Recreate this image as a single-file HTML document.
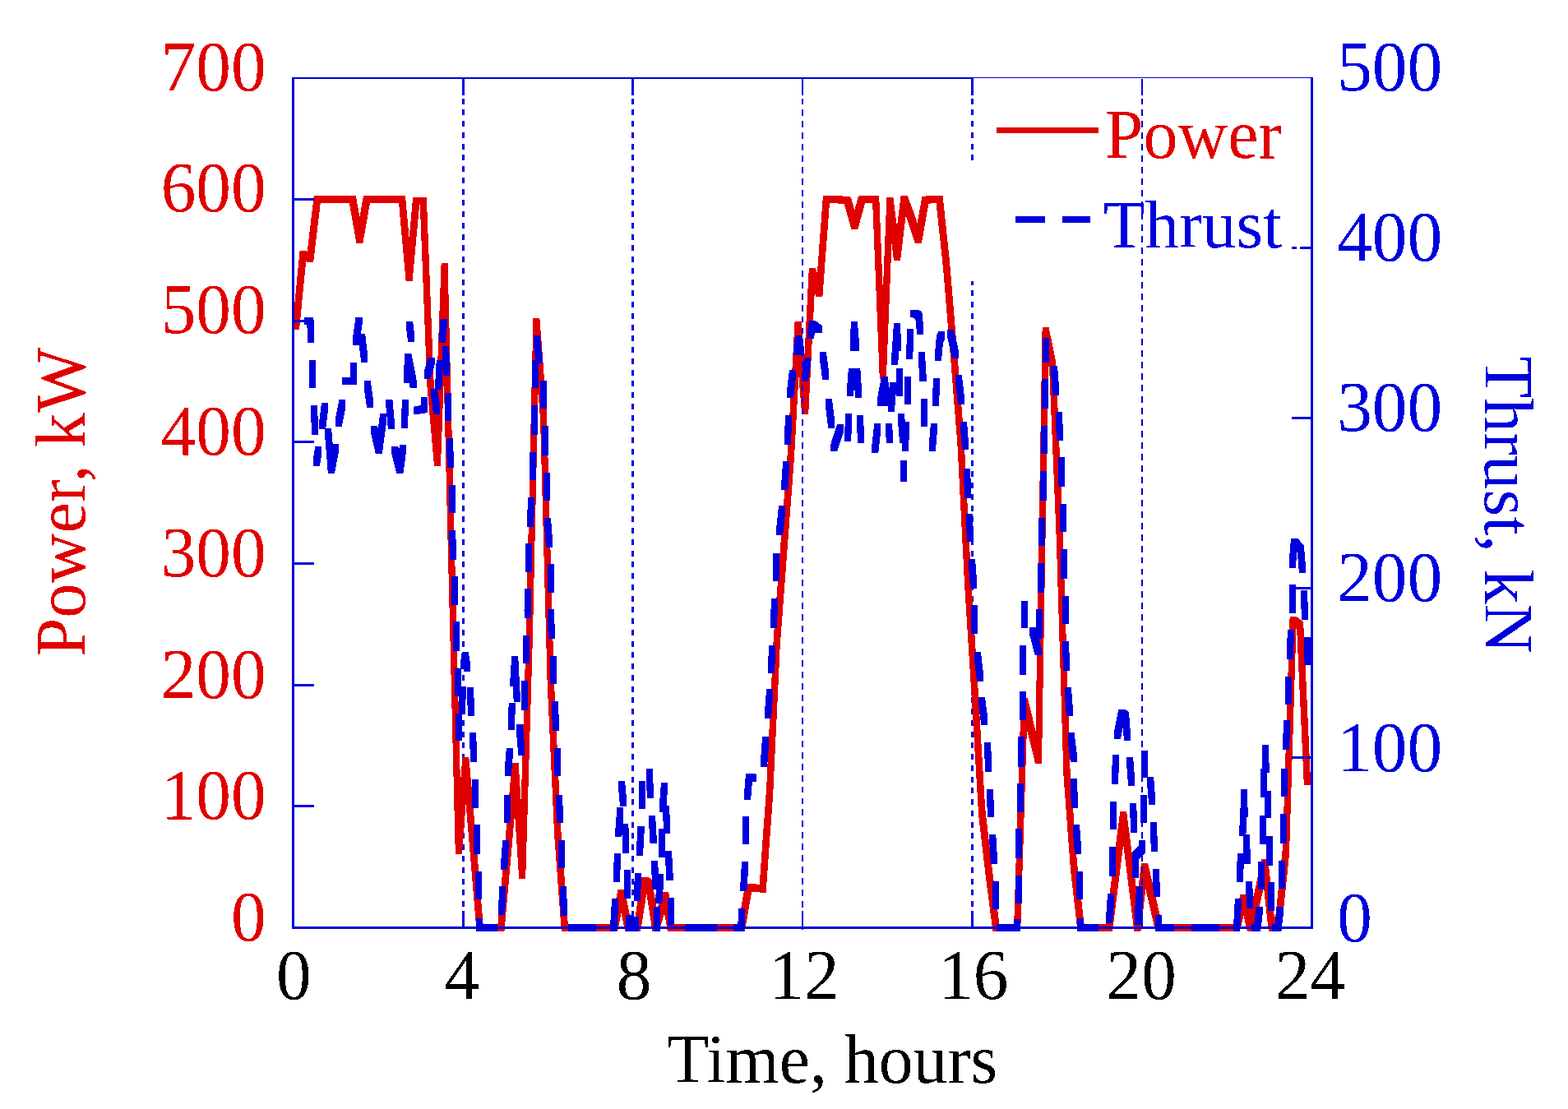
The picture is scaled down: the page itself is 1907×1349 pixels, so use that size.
<!DOCTYPE html>
<html lang="en"><head><meta charset="utf-8"><title>Power and Thrust vs Time</title>
<style>html,body{margin:0;padding:0;background:#fff}body{width:1907px;height:1349px;overflow:hidden}svg{display:block}text{font-family:"Liberation Serif","Times New Roman",serif}</style></head><body>
<svg width="1907" height="1349" viewBox="0 0 1907 1349">
<rect width="1907" height="1349" fill="#fff"/>
<defs><clipPath id="cp"><rect x="350" y="90" width="1245.5" height="1050"/></clipPath><filter id="hard" x="-5%" y="-5%" width="110%" height="110%" color-interpolation-filters="sRGB"><feComponentTransfer><feFuncA type="discrete" tableValues="0 1"/></feComponentTransfer></filter></defs>
<g shape-rendering="crispEdges" fill="#0000dd" stroke="none">
<rect x="561.9" y="96.0" width="3.2" height="19.6"/><rect x="561.9" y="119.5" width="3.2" height="7.0"/><rect x="561.9" y="133.3" width="3.2" height="7.0"/><rect x="561.9" y="147.0" width="3.2" height="7.0"/><rect x="561.9" y="160.8" width="3.2" height="7.0"/><rect x="561.9" y="174.5" width="3.2" height="7.0"/><rect x="561.9" y="188.3" width="3.2" height="7.0"/><rect x="561.9" y="202.0" width="3.2" height="7.0"/><rect x="561.9" y="215.8" width="3.2" height="7.0"/><rect x="561.9" y="229.5" width="3.2" height="7.0"/><rect x="561.9" y="243.3" width="3.2" height="7.0"/><rect x="561.9" y="257.0" width="3.2" height="7.0"/><rect x="561.9" y="270.8" width="3.2" height="7.0"/><rect x="561.9" y="284.5" width="3.2" height="7.0"/><rect x="561.9" y="298.3" width="3.2" height="7.0"/><rect x="561.9" y="312.0" width="3.2" height="7.0"/><rect x="561.9" y="325.8" width="3.2" height="7.0"/><rect x="561.9" y="339.5" width="3.2" height="7.0"/><rect x="561.9" y="353.3" width="3.2" height="7.0"/><rect x="561.9" y="367.1" width="3.2" height="7.0"/><rect x="561.9" y="380.8" width="3.2" height="7.0"/><rect x="561.9" y="394.6" width="3.2" height="7.0"/><rect x="561.9" y="408.3" width="3.2" height="7.0"/><rect x="561.9" y="422.1" width="3.2" height="7.0"/><rect x="561.9" y="435.8" width="3.2" height="7.0"/><rect x="561.9" y="449.6" width="3.2" height="7.0"/><rect x="561.9" y="463.3" width="3.2" height="7.0"/><rect x="561.9" y="477.1" width="3.2" height="7.0"/><rect x="561.9" y="490.8" width="3.2" height="7.0"/><rect x="561.9" y="504.6" width="3.2" height="7.0"/><rect x="561.9" y="518.3" width="3.2" height="7.0"/><rect x="561.9" y="532.1" width="3.2" height="7.0"/><rect x="561.9" y="545.8" width="3.2" height="7.0"/><rect x="561.9" y="559.6" width="3.2" height="7.0"/><rect x="561.9" y="573.3" width="3.2" height="7.0"/><rect x="561.9" y="587.1" width="3.2" height="7.0"/><rect x="561.9" y="600.9" width="3.2" height="7.0"/><rect x="561.9" y="614.6" width="3.2" height="7.0"/><rect x="561.9" y="628.4" width="3.2" height="7.0"/><rect x="561.9" y="642.1" width="3.2" height="7.0"/><rect x="561.9" y="655.9" width="3.2" height="7.0"/><rect x="561.9" y="669.6" width="3.2" height="7.0"/><rect x="561.9" y="683.4" width="3.2" height="7.0"/><rect x="561.9" y="697.1" width="3.2" height="7.0"/><rect x="561.9" y="710.9" width="3.2" height="7.0"/><rect x="561.9" y="724.6" width="3.2" height="7.0"/><rect x="561.9" y="738.4" width="3.2" height="7.0"/><rect x="561.9" y="752.1" width="3.2" height="7.0"/><rect x="561.9" y="765.9" width="3.2" height="7.0"/><rect x="561.9" y="779.6" width="3.2" height="7.0"/><rect x="561.9" y="793.4" width="3.2" height="7.0"/><rect x="561.9" y="807.2" width="3.2" height="7.0"/><rect x="561.9" y="820.9" width="3.2" height="7.0"/><rect x="561.9" y="834.7" width="3.2" height="7.0"/><rect x="561.9" y="848.4" width="3.2" height="7.0"/><rect x="561.9" y="862.2" width="3.2" height="7.0"/><rect x="561.9" y="875.9" width="3.2" height="7.0"/><rect x="561.9" y="889.7" width="3.2" height="7.0"/><rect x="561.9" y="903.4" width="3.2" height="7.0"/><rect x="561.9" y="917.2" width="3.2" height="7.0"/><rect x="561.9" y="930.9" width="3.2" height="7.0"/><rect x="561.9" y="944.7" width="3.2" height="7.0"/><rect x="561.9" y="958.4" width="3.2" height="7.0"/><rect x="561.9" y="972.2" width="3.2" height="7.0"/><rect x="561.9" y="985.9" width="3.2" height="7.0"/><rect x="561.9" y="999.7" width="3.2" height="7.0"/><rect x="561.9" y="1013.4" width="3.2" height="7.0"/><rect x="561.9" y="1027.2" width="3.2" height="7.0"/><rect x="561.9" y="1041.0" width="3.2" height="7.0"/><rect x="561.9" y="1054.7" width="3.2" height="7.0"/><rect x="561.9" y="1068.5" width="3.2" height="7.0"/><rect x="561.9" y="1082.2" width="3.2" height="7.0"/><rect x="561.9" y="1096.0" width="3.2" height="7.0"/><rect x="561.9" y="1108.0" width="3.2" height="19.0"/>
<rect x="767.8" y="96.0" width="3.2" height="19.6"/><rect x="767.8" y="119.5" width="3.2" height="7.0"/><rect x="767.8" y="133.3" width="3.2" height="7.0"/><rect x="767.8" y="147.0" width="3.2" height="7.0"/><rect x="767.8" y="160.8" width="3.2" height="7.0"/><rect x="767.8" y="174.5" width="3.2" height="7.0"/><rect x="767.8" y="188.3" width="3.2" height="7.0"/><rect x="767.8" y="202.0" width="3.2" height="7.0"/><rect x="767.8" y="215.8" width="3.2" height="7.0"/><rect x="767.8" y="229.5" width="3.2" height="7.0"/><rect x="767.8" y="243.3" width="3.2" height="7.0"/><rect x="767.8" y="257.0" width="3.2" height="7.0"/><rect x="767.8" y="270.8" width="3.2" height="7.0"/><rect x="767.8" y="284.5" width="3.2" height="7.0"/><rect x="767.8" y="298.3" width="3.2" height="7.0"/><rect x="767.8" y="312.0" width="3.2" height="7.0"/><rect x="767.8" y="325.8" width="3.2" height="7.0"/><rect x="767.8" y="339.5" width="3.2" height="7.0"/><rect x="767.8" y="353.3" width="3.2" height="7.0"/><rect x="767.8" y="367.1" width="3.2" height="7.0"/><rect x="767.8" y="380.8" width="3.2" height="7.0"/><rect x="767.8" y="394.6" width="3.2" height="7.0"/><rect x="767.8" y="408.3" width="3.2" height="7.0"/><rect x="767.8" y="422.1" width="3.2" height="7.0"/><rect x="767.8" y="435.8" width="3.2" height="7.0"/><rect x="767.8" y="449.6" width="3.2" height="7.0"/><rect x="767.8" y="463.3" width="3.2" height="7.0"/><rect x="767.8" y="477.1" width="3.2" height="7.0"/><rect x="767.8" y="490.8" width="3.2" height="7.0"/><rect x="767.8" y="504.6" width="3.2" height="7.0"/><rect x="767.8" y="518.3" width="3.2" height="7.0"/><rect x="767.8" y="532.1" width="3.2" height="7.0"/><rect x="767.8" y="545.8" width="3.2" height="7.0"/><rect x="767.8" y="559.6" width="3.2" height="7.0"/><rect x="767.8" y="573.3" width="3.2" height="7.0"/><rect x="767.8" y="587.1" width="3.2" height="7.0"/><rect x="767.8" y="600.9" width="3.2" height="7.0"/><rect x="767.8" y="614.6" width="3.2" height="7.0"/><rect x="767.8" y="628.4" width="3.2" height="7.0"/><rect x="767.8" y="642.1" width="3.2" height="7.0"/><rect x="767.8" y="655.9" width="3.2" height="7.0"/><rect x="767.8" y="669.6" width="3.2" height="7.0"/><rect x="767.8" y="683.4" width="3.2" height="7.0"/><rect x="767.8" y="697.1" width="3.2" height="7.0"/><rect x="767.8" y="710.9" width="3.2" height="7.0"/><rect x="767.8" y="724.6" width="3.2" height="7.0"/><rect x="767.8" y="738.4" width="3.2" height="7.0"/><rect x="767.8" y="752.1" width="3.2" height="7.0"/><rect x="767.8" y="765.9" width="3.2" height="7.0"/><rect x="767.8" y="779.6" width="3.2" height="7.0"/><rect x="767.8" y="793.4" width="3.2" height="7.0"/><rect x="767.8" y="807.2" width="3.2" height="7.0"/><rect x="767.8" y="820.9" width="3.2" height="7.0"/><rect x="767.8" y="834.7" width="3.2" height="7.0"/><rect x="767.8" y="848.4" width="3.2" height="7.0"/><rect x="767.8" y="862.2" width="3.2" height="7.0"/><rect x="767.8" y="875.9" width="3.2" height="7.0"/><rect x="767.8" y="889.7" width="3.2" height="7.0"/><rect x="767.8" y="903.4" width="3.2" height="7.0"/><rect x="767.8" y="917.2" width="3.2" height="7.0"/><rect x="767.8" y="930.9" width="3.2" height="7.0"/><rect x="767.8" y="944.7" width="3.2" height="7.0"/><rect x="767.8" y="958.4" width="3.2" height="7.0"/><rect x="767.8" y="972.2" width="3.2" height="7.0"/><rect x="767.8" y="985.9" width="3.2" height="7.0"/><rect x="767.8" y="999.7" width="3.2" height="7.0"/><rect x="767.8" y="1013.4" width="3.2" height="7.0"/><rect x="767.8" y="1027.2" width="3.2" height="7.0"/><rect x="767.8" y="1041.0" width="3.2" height="7.0"/><rect x="767.8" y="1054.7" width="3.2" height="7.0"/><rect x="767.8" y="1068.5" width="3.2" height="7.0"/><rect x="767.8" y="1082.2" width="3.2" height="7.0"/><rect x="767.8" y="1096.0" width="3.2" height="7.0"/><rect x="767.8" y="1108.0" width="3.2" height="19.0"/>
<rect x="1181.0" y="96.0" width="3.0" height="19.6"/><rect x="1181.0" y="119.5" width="3.0" height="7.0"/><rect x="1181.0" y="133.3" width="3.0" height="7.0"/><rect x="1181.0" y="147.0" width="3.0" height="7.0"/><rect x="1181.0" y="160.8" width="3.0" height="7.0"/><rect x="1181.0" y="174.5" width="3.0" height="7.0"/><rect x="1181.0" y="188.3" width="3.0" height="7.0"/><rect x="1181.0" y="342.0" width="3.0" height="4.5"/><rect x="1181.0" y="353.3" width="3.0" height="7.0"/><rect x="1181.0" y="367.1" width="3.0" height="7.0"/><rect x="1181.0" y="380.8" width="3.0" height="7.0"/><rect x="1181.0" y="394.6" width="3.0" height="7.0"/><rect x="1181.0" y="408.3" width="3.0" height="7.0"/><rect x="1181.0" y="422.1" width="3.0" height="7.0"/><rect x="1181.0" y="435.8" width="3.0" height="7.0"/><rect x="1181.0" y="449.6" width="3.0" height="7.0"/><rect x="1181.0" y="463.3" width="3.0" height="7.0"/><rect x="1181.0" y="477.1" width="3.0" height="7.0"/><rect x="1181.0" y="490.8" width="3.0" height="7.0"/><rect x="1181.0" y="504.6" width="3.0" height="7.0"/><rect x="1181.0" y="518.3" width="3.0" height="7.0"/><rect x="1181.0" y="532.1" width="3.0" height="7.0"/><rect x="1181.0" y="545.8" width="3.0" height="7.0"/><rect x="1181.0" y="559.6" width="3.0" height="7.0"/><rect x="1181.0" y="573.3" width="3.0" height="7.0"/><rect x="1181.0" y="587.1" width="3.0" height="7.0"/><rect x="1181.0" y="600.9" width="3.0" height="7.0"/><rect x="1181.0" y="614.6" width="3.0" height="7.0"/><rect x="1181.0" y="628.4" width="3.0" height="7.0"/><rect x="1181.0" y="642.1" width="3.0" height="7.0"/><rect x="1181.0" y="655.9" width="3.0" height="7.0"/><rect x="1181.0" y="669.6" width="3.0" height="7.0"/><rect x="1181.0" y="683.4" width="3.0" height="7.0"/><rect x="1181.0" y="697.1" width="3.0" height="7.0"/><rect x="1181.0" y="710.9" width="3.0" height="7.0"/><rect x="1181.0" y="724.6" width="3.0" height="7.0"/><rect x="1181.0" y="738.4" width="3.0" height="7.0"/><rect x="1181.0" y="752.1" width="3.0" height="7.0"/><rect x="1181.0" y="765.9" width="3.0" height="7.0"/><rect x="1181.0" y="779.6" width="3.0" height="7.0"/><rect x="1181.0" y="793.4" width="3.0" height="7.0"/><rect x="1181.0" y="807.2" width="3.0" height="7.0"/><rect x="1181.0" y="820.9" width="3.0" height="7.0"/><rect x="1181.0" y="834.7" width="3.0" height="7.0"/><rect x="1181.0" y="848.4" width="3.0" height="7.0"/><rect x="1181.0" y="862.2" width="3.0" height="7.0"/><rect x="1181.0" y="875.9" width="3.0" height="7.0"/><rect x="1181.0" y="889.7" width="3.0" height="7.0"/><rect x="1181.0" y="903.4" width="3.0" height="7.0"/><rect x="1181.0" y="917.2" width="3.0" height="7.0"/><rect x="1181.0" y="930.9" width="3.0" height="7.0"/><rect x="1181.0" y="944.7" width="3.0" height="7.0"/><rect x="1181.0" y="958.4" width="3.0" height="7.0"/><rect x="1181.0" y="972.2" width="3.0" height="7.0"/><rect x="1181.0" y="985.9" width="3.0" height="7.0"/><rect x="1181.0" y="999.7" width="3.0" height="7.0"/><rect x="1181.0" y="1013.4" width="3.0" height="7.0"/><rect x="1181.0" y="1027.2" width="3.0" height="7.0"/><rect x="1181.0" y="1041.0" width="3.0" height="7.0"/><rect x="1181.0" y="1054.7" width="3.0" height="7.0"/><rect x="1181.0" y="1068.5" width="3.0" height="7.0"/><rect x="1181.0" y="1082.2" width="3.0" height="7.0"/><rect x="1181.0" y="1096.0" width="3.0" height="7.0"/><rect x="1181.0" y="1108.0" width="3.0" height="19.0"/>
</g>
<g clip-path="url(#cp)" shape-rendering="crispEdges" stroke="none">
<path fill="#e00000" d="M356,392.1 364.6,305.2 372.6,305.2 372.6,314.1 364,400.9 356,400.9ZM364.6,305.2 372.6,305.2 381.2,309.9 381.2,318.8 373.2,318.8 364.6,314.1ZM373.2,309.9 381.8,238 389.8,238 389.8,246.8 381.2,318.8 373.2,318.8ZM381.8,238 398.4,238 398.4,246.8 381.8,246.8ZM390.4,238 399,237.6 407,237.6 407,246.4 398.4,246.8 390.4,246.8ZM399,237.6 407,237.6 415.6,238 415.6,246.8 407.6,246.8 399,246.4ZM407.6,238 416.2,237.6 424.2,237.6 424.2,246.4 415.6,246.8 407.6,246.8ZM416.2,237.6 424.2,237.6 432.8,238 432.8,246.8 424.8,246.8 416.2,246.4ZM424.8,238 432.8,238 441.4,286.9 441.4,295.8 433.4,295.8 424.8,246.8ZM433.4,286.9 442,238 450,238 450,246.8 441.4,295.8 433.4,295.8ZM442,238 458.6,238 458.6,246.8 442,246.8ZM450.6,238 459.2,237.6 467.2,237.6 467.2,246.4 458.6,246.8 450.6,246.8ZM459.2,237.6 467.2,237.6 475.8,238 475.8,246.8 467.8,246.8 459.2,246.4ZM467.8,238 484.4,238 484.4,246.8 467.8,246.8ZM476.4,238 493,238 493,246.8 476.4,246.8ZM485,238 493,238 501.6,332.7 501.6,341.6 493.6,341.6 485,246.8ZM493.6,332.7 502.2,239.8 510.2,239.8 510.2,248.6 501.6,341.6 493.6,341.6ZM502.2,239.8 518.8,239.8 518.8,248.6 502.2,248.6ZM510.8,239.8 518.8,239.8 527.4,460.6 527.4,469.4 519.4,469.4 510.8,248.6ZM519.4,460.6 527.4,460.6 536,557.6 536,566.6 528,566.6 519.4,469.4ZM528,557.6 536.6,320.4 544.6,320.4 544.6,329.2 536,566.6 528,566.6ZM536.6,320.4 544.6,320.4 553.2,675.5 553.2,684.5 545.2,684.5 536.6,329.2ZM545.2,675.5 553.2,675.5 561.8,1029.8 561.8,1038.8 553.8,1038.8 545.2,684.5ZM553.8,1029.8 562.4,921.3 570.4,921.3 570.4,930.2 561.8,1038.8 553.8,1038.8ZM562.4,921.3 570.4,921.3 579,1020.5 579,1029.5 571,1029.5 562.4,930.2ZM571,1020.5 579,1020.5 587.6,1124 587.6,1133 579.6,1133 571,1029.5ZM579.6,1124 596.2,1124 596.2,1133 579.6,1133ZM588.2,1124 604.8,1124 604.8,1133 588.2,1133ZM596.8,1124 613.4,1124 613.4,1133 596.8,1133ZM605.4,1124 614,1027.5 622,1027.5 622,1036.5 613.4,1133 605.4,1133ZM614,1027.5 622.6,928 630.6,928 630.6,937 622,1036.5 614,1036.5ZM622.6,928 630.6,928 639.2,1059.5 639.2,1068.5 631.2,1068.5 622.6,937ZM631.2,1059.5 639.8,770.5 647.8,770.5 647.8,779.5 639.2,1068.5 631.2,1068.5ZM639.8,770.5 648.4,387.1 656.4,387.1 656.4,395.9 647.8,779.5 639.8,779.5ZM648.4,387.1 656.4,387.1 665,500.6 665,509.4 657,509.4 648.4,395.9ZM657,500.6 665,500.6 673.6,820.5 673.6,829.5 665.6,829.5 657,509.4ZM665.6,820.5 673.6,820.5 682.2,1007.5 682.2,1016.5 674.2,1016.5 665.6,829.5ZM674.2,1007.5 682.2,1007.5 690.8,1124 690.8,1133 682.8,1133 674.2,1016.5ZM682.8,1124 751,1124 751,1133 682.8,1133ZM743,1124 751.6,1082 759.6,1082 759.6,1091 751,1133 743,1133ZM751.6,1082 759.6,1082 768.2,1124 768.2,1133 760.2,1133 751.6,1091ZM760.2,1124 779.1,1124 779.1,1133 760.2,1133ZM771.1,1124 780.1,1067 788.1,1067 788.1,1075.9 779.1,1133 771.1,1133ZM780.1,1067 788.1,1067 793.1,1070 793.1,1079 785.1,1079 780.1,1075.9ZM785.1,1070 793.1,1070 801.5,1124 801.5,1133 793.5,1133 785.1,1079ZM793.5,1124 805.2,1085 813.2,1085 813.2,1093.9 801.5,1133 793.5,1133ZM805.2,1085 813.2,1085 819.8,1124 819.8,1133 811.8,1133 805.2,1093.9ZM811.8,1124 905.8,1124 905.8,1133 811.8,1133ZM897.8,1124 906.4,1075 914.4,1075 914.4,1084 905.8,1133 897.8,1133ZM906.4,1075 914.4,1075 923,1075.8 923,1084.7 915,1084.7 906.4,1084ZM915,1075.8 923,1075.8 931.6,1076.5 931.6,1085.5 923.6,1085.5 915,1084.7ZM923.6,1076.5 932.2,957.5 940.2,957.5 940.2,966.5 931.6,1085.5 923.6,1085.5ZM932.2,957.5 940.8,775.5 948.8,775.5 948.8,784.5 940.2,966.5 932.2,966.5ZM940.8,775.5 949.4,661.5 957.4,661.5 957.4,670.5 948.8,784.5 940.8,784.5ZM949.4,661.5 958,547.5 966,547.5 966,556.5 957.4,670.5 949.4,670.5ZM958,547.5 966.6,390.6 974.6,390.6 974.6,399.4 966,556.5 958,556.5ZM966.6,390.6 974.6,390.6 983.2,495.6 983.2,504.4 975.2,504.4 966.6,399.4ZM975.2,495.6 983.8,325.9 991.8,325.9 991.8,334.8 983.2,504.4 975.2,504.4ZM983.8,325.9 991.8,325.9 1000.4,351.9 1000.4,360.8 992.4,360.8 983.8,334.8ZM992.4,351.9 1001,237.8 1009,237.8 1009,246.6 1000.4,360.8 992.4,360.8ZM1001,237.8 1009,237.8 1017.6,238 1017.6,246.8 1009.6,246.8 1001,246.6ZM1009.6,238 1017.6,238 1026.2,238.6 1026.2,247.4 1018.2,247.4 1009.6,246.8ZM1018.2,238.6 1026.2,238.6 1034.8,239.6 1034.8,248.4 1026.8,248.4 1018.2,247.4ZM1026.8,239.6 1034.8,239.6 1043.4,270.1 1043.4,278.9 1035.4,278.9 1026.8,248.4ZM1035.4,270.1 1044,238.6 1052,238.6 1052,247.4 1043.4,278.9 1035.4,278.9ZM1044,238.6 1052.6,238 1060.6,238 1060.6,246.8 1052,247.4 1044,247.4ZM1052.6,238 1069.2,238 1069.2,246.8 1052.6,246.8ZM1061.2,238 1069.2,238 1077.8,452.6 1077.8,461.4 1069.8,461.4 1061.2,246.8ZM1069.8,452.6 1078.4,239.9 1086.4,239.9 1086.4,248.8 1077.8,461.4 1069.8,461.4ZM1078.4,239.9 1086.4,239.9 1095,308.2 1095,317.1 1087,317.1 1078.4,248.8ZM1087,308.2 1095.6,238 1103.6,238 1103.6,246.8 1095,317.1 1087,317.1ZM1095.6,238 1103.6,238 1112.2,260.9 1112.2,269.8 1104.2,269.8 1095.6,246.8ZM1104.2,260.9 1112.2,260.9 1120.8,287.2 1120.8,296.1 1112.8,296.1 1104.2,269.8ZM1112.8,287.2 1121.4,239.1 1129.4,239.1 1129.4,247.9 1120.8,296.1 1112.8,296.1ZM1121.4,239.1 1130,238 1138,238 1138,246.8 1129.4,247.9 1121.4,247.9ZM1130,238 1146.6,238 1146.6,246.8 1130,246.8ZM1138.6,238 1146.6,238 1155.2,319.6 1155.2,328.4 1147.2,328.4 1138.6,246.8ZM1147.2,319.6 1155.2,319.6 1163.8,423.6 1163.8,432.4 1155.8,432.4 1147.2,328.4ZM1155.8,423.6 1163.8,423.6 1172.4,531.5 1172.4,540.5 1164.4,540.5 1155.8,432.4ZM1164.4,531.5 1172.4,531.5 1181,700.5 1181,709.5 1173,709.5 1164.4,540.5ZM1173,700.5 1181,700.5 1189.6,838.5 1189.6,847.5 1181.6,847.5 1173,709.5ZM1181.6,838.5 1189.6,838.5 1198.2,983.5 1198.2,992.5 1190.2,992.5 1181.6,847.5ZM1190.2,983.5 1198.2,983.5 1206.8,1057.5 1206.8,1066.5 1198.8,1066.5 1190.2,992.5ZM1198.8,1057.5 1206.8,1057.5 1215.4,1124 1215.4,1133 1207.4,1133 1198.8,1066.5ZM1207.4,1124 1241.2,1124 1241.2,1133 1207.4,1133ZM1233.2,1124 1241.8,849.1 1249.8,849.1 1249.8,858.1 1241.2,1133 1233.2,1133ZM1241.8,849.1 1249.8,849.1 1258.4,884.3 1258.4,893.2 1250.4,893.2 1241.8,858.1ZM1250.4,884.3 1258.4,884.3 1267,919.5 1267,928.5 1259,928.5 1250.4,893.2ZM1259,919.5 1267.6,398.1 1275.6,398.1 1275.6,406.9 1267,928.5 1259,928.5ZM1267.6,398.1 1275.6,398.1 1284.2,440.6 1284.2,449.4 1276.2,449.4 1267.6,406.9ZM1276.2,440.6 1284.2,440.6 1292.8,647.5 1292.8,656.5 1284.8,656.5 1276.2,449.4ZM1284.8,647.5 1292.8,647.5 1301.4,933.5 1301.4,942.5 1293.4,942.5 1284.8,656.5ZM1293.4,933.5 1301.4,933.5 1310,1049.5 1310,1058.5 1302,1058.5 1293.4,942.5ZM1302,1049.5 1310,1049.5 1318.6,1124 1318.6,1133 1310.6,1133 1302,1058.5ZM1310.6,1124 1353,1124 1353,1133 1310.6,1133ZM1345,1124 1353.6,1055.5 1361.6,1055.5 1361.6,1064.5 1353,1133 1345,1133ZM1353.6,1055.5 1362.2,987.2 1370.2,987.2 1370.2,996.2 1361.6,1064.5 1353.6,1064.5ZM1362.2,987.2 1370.2,987.2 1378.8,1055.5 1378.8,1064.5 1370.8,1064.5 1362.2,996.2ZM1370.8,1055.5 1378.8,1055.5 1387.4,1124 1387.4,1133 1379.4,1133 1370.8,1064.5ZM1379.4,1124 1388,1049.5 1396,1049.5 1396,1058.5 1387.4,1133 1379.4,1133ZM1388,1049.5 1396,1049.5 1404.6,1086.5 1404.6,1095.5 1396.6,1095.5 1388,1058.5ZM1396.6,1086.5 1404.6,1086.5 1413.2,1124 1413.2,1133 1405.2,1133 1396.6,1095.5ZM1405.2,1124 1507.8,1124 1507.8,1133 1405.2,1133ZM1499.8,1124 1508.4,1088.2 1516.4,1088.2 1516.4,1097.2 1507.8,1133 1499.8,1133ZM1508.4,1088.2 1516.4,1088.2 1525,1124 1525,1133 1517,1133 1508.4,1097.2ZM1517,1124 1525.6,1085.5 1533.6,1085.5 1533.6,1094.5 1525,1133 1517,1133ZM1525.6,1085.5 1534.2,1045.1 1542.2,1045.1 1542.2,1054 1533.6,1094.5 1525.6,1094.5ZM1534.2,1045.1 1542.2,1045.1 1550.8,1124 1550.8,1133 1542.8,1133 1534.2,1054ZM1542.8,1124 1551.4,1113.5 1559.4,1113.5 1559.4,1122.5 1550.8,1133 1542.8,1133ZM1551.4,1113.5 1560,1030.5 1568,1030.5 1568,1039.5 1559.4,1122.5 1551.4,1122.5ZM1560,1030.5 1568.6,749.9 1576.6,749.9 1576.6,758.9 1568,1039.5 1560,1039.5ZM1568.6,749.9 1576.6,749.9 1585.2,756.5 1585.2,765.5 1577.2,765.5 1568.6,758.9ZM1577.2,756.5 1585.2,756.5 1593.8,945.5 1593.8,954.5 1585.8,954.5 1577.2,765.5Z"/>
<path fill="#0000dd" d="M370.2,385.8 381.3,385.8 381.3,394.7 370.2,394.7ZM373.3,385.8 381.3,385.8 382.3,407.7 382.3,416.6 374.3,416.6 373.3,394.7ZM375.9,437.9 383.9,437.9 383.9,472 375.9,472ZM378.1,493.3 386.1,493.3 387,519.6 387,528.5 379,528.5 378.1,502.2ZM381,557.7 383.3,542.8 391.3,542.8 391.3,551.7 389,566.6 381,566.6ZM388.2,512.9 391,489.9 399,489.9 399,498.8 396.2,521.8 388.2,521.8ZM395.1,521 403.1,521 406.9,567.4 406.9,576.3 398.9,576.3 395.1,529.9ZM398.9,567.4 404,540.3 412,540.3 412,549.2 406.9,576.3 398.9,576.3ZM407.8,510 412.4,486.1 420.4,486.1 420.4,495 415.8,518.9 407.8,518.9ZM416.4,459 424.4,459 433.8,459.5 433.8,468.4 425.8,468.4 416.4,467.9ZM425.8,441.3 433.8,441.3 433.8,468.4 425.8,468.4ZM428.8,411.4 432.5,385.9 440.5,385.9 440.5,394.8 436.8,420.3 428.8,420.3ZM436.2,406 444.2,406 447.2,432.4 447.2,441.3 439.2,441.3 436.2,414.9ZM442.7,463.1 450.7,463.1 454.1,486.9 454.1,495.8 446.1,495.8 442.7,472ZM451,517.9 459,517.9 464.8,543.1 464.8,552 456.8,552 451,526.8ZM456.8,543.1 462.2,503.3 470.2,503.3 470.2,512.2 464.8,552 456.8,552ZM469.4,486.1 477.4,486.1 479.9,512.9 479.9,521.8 471.9,521.8 469.4,495ZM476.1,542.8 484.1,542.8 490.3,567.4 490.3,576.3 482.3,576.3 476.1,551.7ZM482.3,567.4 486,541.1 494,541.1 494,550 490.3,576.3 482.3,576.3ZM488,512.1 488.9,486.1 496.9,486.1 496.9,495 496,521 488,521ZM490.7,456.7 492.4,430 500.4,430 500.4,438.9 498.7,465.6 490.7,465.6ZM492.4,430 500.4,430 506.8,463.1 506.8,472 498.8,472 492.4,438.9ZM494.1,390.9 502.1,390.9 504.1,406.7 504.1,415.6 496.1,415.6 494.1,399.8ZM502.8,494.7 511.9,493 519.9,493 519.9,501.9 510.8,503.6 502.8,503.6ZM511.9,493 512.2,483.2 520.2,483.2 520.2,492.1 519.9,501.9 511.9,501.9ZM515.9,451.7 520.6,435 528.6,435 528.6,443.9 523.9,460.6 515.9,460.6ZM524,473.1 532,473.1 535.3,495.3 535.3,504.2 527.3,504.2 524,482ZM529.3,465.1 530.7,437.9 538.7,437.9 538.7,446.8 537.3,474 529.3,474ZM534,408 535.7,387.6 543.7,387.6 543.7,396.5 542,416.9 534,416.9ZM538.2,421.1 546.2,421.1 547.1,448.3 547.1,457.2 539.1,457.2 538.2,430ZM540.7,478.2 548.7,478.2 548.7,511.7 540.7,511.7ZM543.1,533 551.1,533 551.8,559.9 551.8,568.8 543.8,568.8 543.1,541.9ZM648.9,407.8 656.9,407.8 659.6,433.3 659.6,442.2 651.6,442.2 648.9,416.7ZM647.1,438 655.1,438 655.1,472.1 647.1,472.1ZM657.1,462.7 665.1,462.7 665.1,496.8 657.1,496.8ZM645.6,519.8 646.1,492.9 654.1,492.9 654.1,501.8 653.6,528.7 645.6,528.7ZM659,518.1 667,518.1 667,553.8 659,553.8ZM643.9,575.1 644.4,550 652.4,550 652.4,558.9 651.9,584 643.9,584ZM545.9,590.1 553.9,590.1 553.9,624 545.9,624ZM546.2,645 554.2,645 555,671.9 555,680.8 547,680.8 546.2,653.9ZM548.9,701.2 556.9,701.2 556.9,735.8 548.9,735.8ZM550.9,755.9 558.9,755.9 558.9,791.8 550.9,791.8ZM641,631.6 642.2,604.9 650.2,604.9 650.2,613.8 649,640.5 641,640.5ZM639,661.1 647,661.1 647,695.9 639,695.9ZM637.5,742.8 637.8,716 645.8,716 645.8,724.9 645.5,751.7 637.5,751.7ZM636.2,773.1 644.2,773.1 644.2,807.1 636.2,807.1ZM660.5,575 668.5,575 668.5,608.9 660.5,608.9ZM662,630.1 670,630.1 672,656.8 672,665.7 664,665.7 662,639ZM665.5,686.1 673.5,686.1 673.5,720.7 665.5,720.7ZM665.5,741.2 673.5,741.2 675,767.8 675,776.7 667,776.7 665.5,750.1ZM560,805.5 561.8,793.1 569.8,793.1 569.8,802 568,814.4 560,814.4ZM561.8,793.1 569.8,793.1 572,807.7 572,816.6 564,816.6 561.8,802ZM552.6,813.1 560.6,813.1 560.6,847.1 552.6,847.1ZM557.8,860 558.8,835.4 566.8,835.4 566.8,844.3 565.8,868.9 557.8,868.9ZM554.1,868.1 562.1,868.1 562.1,900.8 554.1,900.8ZM568,836.2 576,836.2 577,861.7 577,870.6 569,870.6 568,845.1ZM571,891.1 579,891.1 580.2,917.9 580.2,926.8 572.2,926.8 571,900ZM574.1,948.3 582.1,948.3 582.1,983.1 574.1,983.1ZM612.7,967.1 620.7,967.1 620.7,1001.2 612.7,1001.2ZM613.8,934.7 615.8,910.1 623.8,910.1 623.8,919 621.8,943.6 613.8,943.6ZM617.9,879.3 618.7,855 626.7,855 626.7,863.9 625.9,888.2 617.9,888.2ZM620.4,826.5 622.2,798.1 630.2,798.1 630.2,807 628.4,835.4 620.4,835.4ZM622.2,798.1 630.2,798.1 632.7,844.9 632.7,853.8 624.7,853.8 622.2,807ZM634,828.2 642,828.2 642,863.9 634,863.9ZM627.9,881.2 635.9,881.2 638.4,909.9 638.4,918.8 630.4,918.8 627.9,890.1ZM669,798.1 677,798.1 677,831.7 669,831.7ZM670.7,853 678.7,853 680.1,879.8 680.1,888.7 672.1,888.7 670.7,861.9ZM674.1,910.1 682.1,910.1 682.1,943.6 674.1,943.6ZM675.9,967.1 683.9,967.1 685.1,992.3 685.1,1001.2 677.1,1001.2 675.9,976ZM576.1,1003 584.1,1003 584.1,1038.7 576.1,1038.7ZM577.8,1060.1 585.8,1060.1 585.8,1094.1 577.8,1094.1ZM579.1,1117.1 587.1,1117.1 587.4,1124.1 587.4,1133 579.4,1133 579.1,1126ZM579.4,1124.1 605.1,1124.1 605.1,1133 579.4,1133ZM609.1,1049 611.2,1022 619.2,1022 619.2,1030.9 617.1,1057.9 609.1,1057.9ZM606.1,1104 607.3,1078 615.3,1078 615.3,1086.9 614.1,1112.9 606.1,1112.9ZM678.9,1022 686.9,1022 686.9,1055.9 678.9,1055.9ZM680.8,1078 688.8,1078 690.1,1104.9 690.1,1113.8 682.1,1113.8 680.8,1086.9ZM691.2,1124.1 725.1,1124.1 725.1,1133 691.2,1133ZM752,950 760,950 762.1,971.9 762.1,980.8 754.1,980.8 752,958.9ZM748.4,1008.8 750.4,982 758.4,982 758.4,990.9 756.4,1017.7 748.4,1017.7ZM756.4,1002.2 764.4,1002.2 765,1029.1 765,1038 757,1038 756.4,1011.1ZM776.9,950 784.9,950 784.9,983.9 776.9,983.9ZM785.5,935.1 793.5,935.1 795,962.1 795,971 787,971 785.5,944ZM774,1032 775.5,1005.1 783.5,1005.1 783.5,1014 782,1040.9 774,1040.9ZM789.1,991.9 797.1,991.9 798.6,1017 798.6,1025.9 790.6,1025.9 789.1,1000.8ZM801.9,979 804,952 812,952 812,960.9 809.9,987.9 801.9,987.9ZM806,979.9 814,979.9 815.2,1004.9 815.2,1013.8 807.2,1013.8 806,988.8ZM800.5,1008.1 808.5,1008.1 808.5,1043 800.5,1043ZM742.2,1123.9 744.2,1092.9 752.2,1092.9 752.2,1101.8 750.2,1132.8 742.2,1132.8ZM745.7,1064.1 747.1,1038 755.1,1038 755.1,1046.9 753.7,1073 745.7,1073ZM758.9,1058.1 766.9,1058.1 766.9,1092.9 758.9,1092.9ZM761,1113.1 769,1113.1 769,1132.9 761,1132.9ZM761,1124 776.9,1124 776.9,1132.9 761,1132.9ZM768.9,1114.7 776.9,1114.7 776.9,1132.9 768.9,1132.9ZM770.6,1087 772.1,1062 780.1,1062 780.1,1070.9 778.6,1095.9 770.6,1095.9ZM792,1047.2 800,1047.2 801.6,1073.5 801.6,1082.4 793.6,1082.4 792,1056.1ZM797.4,1089.9 799.2,1063.1 807.2,1063.1 807.2,1072 805.4,1098.8 797.4,1098.8ZM795.4,1103 803.4,1103 803.4,1132.8 795.4,1132.8ZM809,1034.9 817,1034.9 818.5,1062 818.5,1070.9 810.5,1070.9 809,1043.8ZM812,1092.1 820,1092.1 820,1126.1 812,1126.1ZM834,1124 871.9,1124 871.9,1132.9 834,1132.9ZM833.4,1124.1 872,1124.1 872,1133 833.4,1133ZM892.2,1124.1 905.4,1124.1 905.4,1133 892.2,1133ZM897.4,1124.1 898.2,1104.5 906.2,1104.5 906.2,1113.4 905.4,1133 897.4,1133ZM900.4,1074.6 902.1,1048.3 910.1,1048.3 910.1,1057.2 908.4,1083.5 900.4,1083.5ZM903.4,993.3 911.4,993.3 911.4,1027.3 903.4,1027.3ZM905.1,963.9 907.1,940.7 915.1,940.7 915.1,949.6 913.1,972.8 905.1,972.8ZM907.1,940.7 915.1,940.7 920.2,941.8 920.2,950.7 912.2,950.7 907.1,949.6ZM925.1,923.9 927.1,896.2 935.1,896.2 935.1,905.1 933.1,932.8 925.1,932.8ZM930.1,864.6 932.1,838.3 940.1,838.3 940.1,847.2 938.1,873.5 930.1,873.5ZM934,809.8 935.1,785.1 943.1,785.1 943.1,794 942,818.7 934,818.7ZM936.8,755.1 938.2,728.1 946.2,728.1 946.2,737 944.8,764 936.8,764ZM940,673.1 948,673.1 948,706.7 940,706.7ZM944.2,641.7 947.1,615.2 955.1,615.2 955.1,624.1 952.2,650.6 944.2,650.6ZM950.3,587 952.1,561.2 960.1,561.2 960.1,570.1 958.3,595.9 950.3,595.9ZM953.9,532 955.1,505.2 963.1,505.2 963.1,514.1 961.9,540.9 953.9,540.9ZM957.1,474.9 959.9,450.1 967.9,450.1 967.9,459 965.1,483.8 957.1,483.8ZM965.1,423.3 967.2,407.8 975.2,407.8 975.2,416.7 973.1,432.2 965.1,432.2ZM967.2,407.8 975.2,407.8 978,423.3 978,432.2 970,432.2 967.2,416.7ZM975,455.1 977.9,435 985.9,435 985.9,443.9 983,464 975,464ZM981.9,403.1 984.1,390.3 992.1,390.3 992.1,399.2 989.9,412 981.9,412ZM984.1,390.3 992.1,390.3 1000.2,396.3 1000.2,405.2 992.2,405.2 984.1,399.2ZM996.9,428 1004.9,428 1008.2,453 1008.2,461.9 1000.2,461.9 996.9,436.9ZM1003.9,485 1011.9,485 1015.3,511.9 1015.3,520.8 1007.3,520.8 1003.9,493.9ZM1010.4,539.9 1018.2,516.1 1026.2,516.1 1026.2,525 1018.4,548.8 1010.4,548.8ZM1027.1,528.1 1028.2,503 1036.2,503 1036.2,511.9 1035.1,537 1027.1,537ZM1033.8,417.9 1034.9,391 1042.9,391 1042.9,399.9 1041.8,426.8 1033.8,426.8ZM1034.9,391 1042.9,391 1045.1,417.9 1045.1,426.8 1037.1,426.8 1034.9,399.9ZM1041.8,505.2 1049.8,505.2 1051.2,529.8 1051.2,538.7 1043.2,538.7 1041.8,514.1ZM1060.3,542.1 1063.3,515.2 1071.3,515.2 1071.3,524.1 1068.3,551 1060.3,551ZM1076.9,515.2 1084.9,515.2 1086.1,529.8 1086.1,538.7 1078.1,538.7 1076.9,524.1ZM1084.1,434.7 1087,393.1 1095,393.1 1095,402 1092.1,443.6 1084.1,443.6ZM1087,393.1 1095,393.1 1096,417.9 1096,426.8 1088,426.8 1087,402ZM1102.1,428 1103.4,399.9 1111.4,399.9 1111.4,408.8 1110.1,436.9 1102.1,436.9ZM1107.2,376.5 1115.2,376.5 1121.3,379 1121.3,387.9 1113.3,387.9 1107.2,385.4ZM1113.3,379 1121.3,379 1123.2,398.1 1123.2,407 1115.2,407 1113.3,387.9ZM1116.8,428 1124.8,428 1126.5,454.8 1126.5,463.7 1118.5,463.7 1116.8,436.9ZM1119.9,485 1127.9,485 1127.9,518.6 1119.9,518.6ZM1129.9,539.9 1131.9,515.2 1139.9,515.2 1139.9,524.1 1137.9,548.8 1129.9,548.8ZM1134,484.8 1135,460.2 1143,460.2 1143,469.1 1142,493.7 1134,493.7ZM1137,430 1138.8,409.3 1146.8,409.3 1146.8,418.2 1145,438.9 1137,438.9ZM1138.8,409.3 1141.3,402.8 1149.3,402.8 1149.3,411.7 1146.8,418.2 1138.8,418.2ZM1152.1,401.1 1160.1,401.1 1166,427 1166,435.9 1158,435.9 1152.1,410ZM1161.8,456 1169.8,456 1173,482.8 1173,491.7 1165,491.7 1161.8,464.9ZM1168,513 1176,513 1178,537.7 1178,546.6 1170,546.6 1168,521.9ZM1095,560 1103,560 1103,586 1095,586ZM1030,472.8 1031.9,447.9 1039.9,447.9 1039.9,456.8 1038,481.7 1030,481.7ZM1031.9,447.9 1046.3,447.9 1046.3,456.8 1031.9,456.8ZM1038.3,447.9 1046.3,447.9 1048.1,475.1 1048.1,484 1040.1,484 1038.3,456.8ZM1066.9,484.8 1072,458 1080,458 1080,466.9 1074.9,493.7 1066.9,493.7ZM1072,458 1080,458 1081.9,484.8 1081.9,493.7 1073.9,493.7 1072,466.9ZM1079.9,491.9 1082,465.1 1090,465.1 1090,474 1087.9,500.8 1079.9,500.8ZM1090,447.9 1098,447.9 1098,481.7 1090,481.7ZM1100.1,458 1108.1,458 1108.1,491.8 1100.1,491.8ZM1091.9,503.1 1099.9,503.1 1102.2,529.9 1102.2,538.8 1094.2,538.8 1091.9,512ZM1097,540 1098,513 1106,513 1106,521.9 1105,548.9 1097,548.9ZM1174.7,625.1 1182.7,625.1 1184.1,649.8 1184.1,658.7 1176.1,658.7 1174.7,634ZM1178.1,680 1186.1,680 1188.1,706.8 1188.1,715.7 1180.1,715.7 1178.1,688.9ZM1181.4,735.9 1189.4,735.9 1189.4,770.6 1181.4,770.6ZM1172,570.1 1180,570.1 1181.1,596.7 1181.1,605.6 1173.1,605.6 1172,579ZM1265,573.1 1273,573.1 1273,608.7 1265,608.7ZM1263,630.1 1271,630.1 1271,664 1263,664ZM1261.7,685 1269.7,685 1269.7,721.1 1261.7,721.1ZM1259.5,767.6 1260,740.9 1268,740.9 1268,749.8 1267.5,776.5 1259.5,776.5ZM1252.1,763.1 1260.1,763.1 1266.6,787.9 1266.6,796.8 1258.6,796.8 1252.1,772ZM1241.5,731.2 1249.5,731.2 1249.5,763.9 1241.5,763.9ZM1288.5,612.9 1296.5,612.9 1296.5,646.9 1288.5,646.9ZM1289.9,668.2 1297.9,668.2 1297.9,704 1289.9,704ZM1292,725.3 1300,725.3 1300,758.9 1292,758.9ZM1268,432.1 1268.4,411.3 1276.4,411.3 1276.4,420.2 1276,441 1268,441ZM1278.1,445.2 1286.1,445.2 1288.1,472 1288.1,480.9 1280.1,480.9 1278.1,454.1ZM1266.7,461.1 1274.7,461.1 1274.7,496.8 1266.7,496.8ZM1283.8,501 1291.8,501 1293,527 1293,535.9 1285,535.9 1283.8,509.9ZM1266.4,517.8 1274.4,517.8 1274.4,551.9 1266.4,551.9ZM1286.8,582.9 1287.2,556.1 1295.2,556.1 1295.2,565 1294.8,591.8 1286.8,591.8ZM1185,793.2 1193,793.2 1196,819.8 1196,828.7 1188,828.7 1185,802.1ZM1190,848 1198,848 1201.2,872.7 1201.2,881.6 1193.2,881.6 1190,856.9ZM1197.1,903.1 1205.1,903.1 1206.1,929.8 1206.1,938.7 1198.1,938.7 1197.1,912ZM1199.9,960.1 1207.9,960.1 1209.1,985.1 1209.1,994 1201.1,994 1199.9,969ZM1240,785.1 1248,785.1 1248,820.7 1240,820.7ZM1240,841.3 1248,841.3 1248,876.1 1240,876.1ZM1238,896.2 1246,896.2 1246,932.8 1238,932.8ZM1236.7,952.9 1244.7,952.9 1244.7,987.8 1236.7,987.8ZM1292,780.1 1300,780.1 1301,806.7 1301,815.6 1293,815.6 1292,789ZM1294.9,836.3 1302.9,836.3 1304.9,861.8 1304.9,870.7 1296.9,870.7 1294.9,845.2ZM1298.6,891.2 1306.6,891.2 1309.9,918 1309.9,926.9 1301.9,926.9 1298.6,900.1ZM1301.9,947 1309.9,947 1310.9,973.9 1310.9,982.8 1302.9,982.8 1301.9,955.9ZM1355,890 1360.3,863.1 1368.3,863.1 1368.3,872 1363,898.9 1355,898.9ZM1360.3,863.1 1368.3,863.1 1373,866 1373,874.9 1365,874.9 1360.3,872ZM1365,866 1373,866 1375,892 1375,900.9 1367,900.9 1365,874.9ZM1351.9,944.9 1353.1,918 1361.1,918 1361.1,926.9 1359.9,953.8 1351.9,953.8ZM1370.1,921 1378.1,921 1380.1,947 1380.1,955.9 1372.1,955.9 1370.1,929.9ZM1388,913.1 1396,913.1 1396,945.9 1388,945.9ZM1395.1,945 1403.1,945 1405.1,970 1405.1,978.9 1397.1,978.9 1395.1,953.9ZM1203.3,1015.2 1211.3,1015.2 1212.9,1041.9 1212.9,1050.8 1204.9,1050.8 1203.3,1024.1ZM1206.5,1072.1 1214.5,1072.1 1214.5,1105.9 1206.5,1105.9ZM1212,1124.1 1241.1,1124.1 1241.1,1133 1212,1133ZM1233.1,1118 1241.1,1118 1241.1,1133 1233.1,1133ZM1235.3,1008 1243.3,1008 1243.3,1043.8 1235.3,1043.8ZM1235.1,1065.1 1243.1,1065.1 1243.1,1098.7 1235.1,1098.7ZM1305,1003 1313,1003 1315,1029.8 1315,1038.7 1307,1038.7 1305,1011.9ZM1308.5,1060.1 1316.5,1060.1 1316.5,1094.1 1308.5,1094.1ZM1309.8,1117.1 1317.8,1117.1 1317.8,1133 1309.8,1133ZM1309.8,1124.1 1336.1,1124.1 1336.1,1133 1309.8,1133ZM1349.9,975 1357.9,975 1357.9,1008.9 1349.9,1008.9ZM1348.9,1030.2 1356.9,1030.2 1356.9,1065.9 1348.9,1065.9ZM1345.1,1114.1 1347.1,1086.9 1355.1,1086.9 1355.1,1095.8 1353.1,1123 1345.1,1123ZM1374.1,977 1382.1,977 1383.3,1003.8 1383.3,1012.7 1375.3,1012.7 1374.1,985.9ZM1385.2,1022 1393.2,1022 1393.2,1037.2 1385.2,1037.2ZM1377.1,1036.3 1385.2,1028.3 1393.2,1028.3 1393.2,1037.2 1385.1,1045.2 1377.1,1045.2ZM1377.1,1036.3 1385.1,1036.3 1385.1,1067.6 1377.1,1067.6ZM1379.5,1115.8 1382.2,1077.7 1390.2,1077.7 1390.2,1086.6 1387.5,1124.7 1379.5,1124.7ZM1386.9,966.6 1394.9,966.6 1394.9,1000.5 1386.9,1000.5ZM1398.8,1000.1 1406.8,1000.1 1407.9,1026.8 1407.9,1035.7 1399.9,1035.7 1398.8,1009ZM1402,1057.2 1410,1057.2 1410.8,1081.9 1410.8,1090.8 1402.8,1090.8 1402,1066.1ZM1404.8,1112.9 1412.8,1112.9 1412.8,1133 1404.8,1133ZM1404.8,1124.1 1427.9,1124.1 1427.9,1133 1404.8,1133ZM1449,1124.1 1483.1,1124.1 1483.1,1133 1449,1133ZM1500.2,1124.1 1508.2,1124.1 1508.2,1133 1500.2,1133ZM1500.2,1124.1 1501.9,1093.1 1509.9,1093.1 1509.9,1102 1508.2,1133 1500.2,1133ZM1503.6,1063.7 1505.1,1038.2 1513.1,1038.2 1513.1,1047.1 1511.6,1072.6 1503.6,1072.6ZM1507.4,1008.4 1508.1,982.9 1516.1,982.9 1516.1,991.8 1515.4,1017.3 1507.4,1017.3ZM1508.9,960.2 1516.9,960.2 1517.6,984.9 1517.6,993.8 1509.6,993.8 1508.9,969.1ZM1511.6,1015.2 1519.6,1015.2 1521,1041.9 1521,1050.8 1513,1050.8 1511.6,1024.1ZM1515.1,1072.1 1523.1,1072.1 1524.2,1096.5 1524.2,1105.4 1516.2,1105.4 1515.1,1081ZM1521.7,1124.1 1533.2,1124.1 1533.2,1133 1521.7,1133ZM1525.2,1124.1 1527.7,1102.8 1535.7,1102.8 1535.7,1111.7 1533.2,1133 1525.2,1133ZM1530.4,1048.3 1538.4,1048.3 1538.4,1082.4 1530.4,1082.4ZM1531.6,992.1 1539.6,992.1 1539.6,1027.3 1531.6,1027.3ZM1532.9,961.4 1533.4,935 1541.4,935 1541.4,943.9 1540.9,970.3 1532.9,970.3ZM1538.3,961.9 1546.3,961.9 1546.3,995.4 1538.3,995.4ZM1540,1017.3 1548,1017.3 1548,1052.5 1540,1052.5ZM1541.7,1073 1549.7,1073 1549.7,1107.9 1541.7,1107.9ZM1547,1124.1 1558.4,1124.1 1558.4,1133 1547,1133ZM1550.4,1124.1 1552.9,1102.8 1560.9,1102.8 1560.9,1111.7 1558.4,1133 1550.4,1133ZM1554.9,1047 1562.9,1047 1562.9,1081 1554.9,1081ZM1556.8,990.1 1564.8,990.1 1564.8,1025.7 1556.8,1025.7ZM1558.4,935 1566.4,935 1566.4,968.6 1558.4,968.6ZM1534.9,905.9 1542.9,905.9 1543.6,931.1 1543.6,940 1535.6,940 1534.9,914.8ZM1560.1,902.9 1561.1,876.1 1569.1,876.1 1569.1,885 1568.1,911.8 1560.1,911.8ZM1563.1,823.2 1571.1,823.2 1571.1,856.8 1563.1,856.8ZM1565,793.3 1565.8,766.1 1573.8,766.1 1573.8,775 1573,802.2 1565,802.2ZM1585.6,775.4 1593.6,775.4 1594.5,800 1594.5,808.9 1586.5,808.9 1585.6,784.3ZM1567.8,681.7 1570,654.8 1578,654.8 1578,663.7 1575.8,690.6 1567.8,690.6ZM1570,654.8 1578,654.8 1585.9,663.2 1585.9,672.1 1577.9,672.1 1570,663.7ZM1577.9,663.2 1585.9,663.2 1587.9,687.9 1587.9,696.8 1579.9,696.8 1577.9,672.1ZM1567.8,711 1575.8,711 1575.8,745.9 1567.8,745.9ZM1581.9,718.1 1589.9,718.1 1591.1,744.9 1591.1,753.8 1583.1,753.8 1581.9,727Z"/>
</g>
<g shape-rendering="crispEdges">
<rect x="1212" y="154.9" width="124.1" height="7" fill="#e00000"/>
<rect x="1235" y="263" width="36.1" height="7.9" fill="#0000dd"/>
<rect x="1292" y="263" width="34" height="7.9" fill="#0000dd"/>
</g>
<g filter="url(#hard)">
<text x="1343.8" y="192.2" font-size="84" fill="#e00000">Power</text>
<text x="1341.7" y="300.8" font-size="83.3" fill="#0000dd">Thrust</text>
</g>
<g shape-rendering="crispEdges" fill="#0000dd" stroke="none">
<rect x="975.0" y="96.0" width="2.0" height="19.6"/><rect x="975.0" y="119.5" width="2.0" height="7.9"/><rect x="975.0" y="133.4" width="2.0" height="7.9"/><rect x="975.0" y="147.4" width="2.0" height="7.9"/><rect x="975.0" y="161.3" width="2.0" height="7.9"/><rect x="975.0" y="175.3" width="2.0" height="7.9"/><rect x="975.0" y="189.2" width="2.0" height="7.9"/><rect x="975.0" y="203.2" width="2.0" height="7.9"/><rect x="975.0" y="217.1" width="2.0" height="7.9"/><rect x="975.0" y="231.1" width="2.0" height="7.9"/><rect x="975.0" y="245.0" width="2.0" height="7.9"/><rect x="975.0" y="259.0" width="2.0" height="7.9"/><rect x="975.0" y="272.9" width="2.0" height="7.9"/><rect x="975.0" y="286.9" width="2.0" height="7.9"/><rect x="975.0" y="300.8" width="2.0" height="7.9"/><rect x="975.0" y="314.8" width="2.0" height="7.9"/><rect x="975.0" y="328.7" width="2.0" height="7.9"/><rect x="975.0" y="342.7" width="2.0" height="7.9"/><rect x="975.0" y="356.6" width="2.0" height="7.9"/><rect x="975.0" y="370.6" width="2.0" height="7.9"/><rect x="975.0" y="384.5" width="2.0" height="7.9"/><rect x="975.0" y="398.5" width="2.0" height="7.9"/><rect x="975.0" y="412.4" width="2.0" height="7.9"/><rect x="975.0" y="426.4" width="2.0" height="7.9"/><rect x="975.0" y="440.3" width="2.0" height="7.9"/><rect x="975.0" y="454.3" width="2.0" height="7.9"/><rect x="975.0" y="468.2" width="2.0" height="7.9"/><rect x="975.0" y="482.2" width="2.0" height="7.9"/><rect x="975.0" y="496.1" width="2.0" height="7.9"/><rect x="975.0" y="510.1" width="2.0" height="7.9"/><rect x="975.0" y="524.0" width="2.0" height="7.9"/><rect x="975.0" y="538.0" width="2.0" height="7.9"/><rect x="975.0" y="551.9" width="2.0" height="7.9"/><rect x="975.0" y="565.9" width="2.0" height="7.9"/><rect x="975.0" y="579.8" width="2.0" height="7.9"/><rect x="975.0" y="593.8" width="2.0" height="7.9"/><rect x="975.0" y="607.8" width="2.0" height="7.9"/><rect x="975.0" y="621.7" width="2.0" height="7.9"/><rect x="975.0" y="635.7" width="2.0" height="7.9"/><rect x="975.0" y="649.6" width="2.0" height="7.9"/><rect x="975.0" y="663.6" width="2.0" height="7.9"/><rect x="975.0" y="677.5" width="2.0" height="7.9"/><rect x="975.0" y="691.5" width="2.0" height="7.9"/><rect x="975.0" y="705.4" width="2.0" height="7.9"/><rect x="975.0" y="719.4" width="2.0" height="7.9"/><rect x="975.0" y="733.3" width="2.0" height="7.9"/><rect x="975.0" y="747.3" width="2.0" height="7.9"/><rect x="975.0" y="761.2" width="2.0" height="7.9"/><rect x="975.0" y="775.2" width="2.0" height="7.9"/><rect x="975.0" y="789.1" width="2.0" height="7.9"/><rect x="975.0" y="803.1" width="2.0" height="7.9"/><rect x="975.0" y="817.0" width="2.0" height="7.9"/><rect x="975.0" y="831.0" width="2.0" height="7.9"/><rect x="975.0" y="844.9" width="2.0" height="7.9"/><rect x="975.0" y="858.9" width="2.0" height="7.9"/><rect x="975.0" y="872.8" width="2.0" height="7.9"/><rect x="975.0" y="886.8" width="2.0" height="7.9"/><rect x="975.0" y="900.7" width="2.0" height="7.9"/><rect x="975.0" y="914.7" width="2.0" height="7.9"/><rect x="975.0" y="928.6" width="2.0" height="7.9"/><rect x="975.0" y="942.6" width="2.0" height="7.9"/><rect x="975.0" y="956.5" width="2.0" height="7.9"/><rect x="975.0" y="970.5" width="2.0" height="7.9"/><rect x="975.0" y="984.4" width="2.0" height="7.9"/><rect x="975.0" y="998.4" width="2.0" height="7.9"/><rect x="975.0" y="1012.3" width="2.0" height="7.9"/><rect x="975.0" y="1026.3" width="2.0" height="7.9"/><rect x="975.0" y="1040.2" width="2.0" height="7.9"/><rect x="975.0" y="1054.2" width="2.0" height="7.9"/><rect x="975.0" y="1068.1" width="2.0" height="7.9"/><rect x="975.0" y="1082.1" width="2.0" height="7.9"/><rect x="975.0" y="1096.0" width="2.0" height="7.9"/><rect x="975.0" y="1108.0" width="2.0" height="19.0"/>
<rect x="975" y="1127" width="2" height="4.4"/>
<rect x="1388.0" y="96.0" width="2.0" height="19.6"/><rect x="1388.0" y="119.5" width="2.0" height="7.9"/><rect x="1388.0" y="133.4" width="2.0" height="7.9"/><rect x="1388.0" y="147.4" width="2.0" height="7.9"/><rect x="1388.0" y="161.3" width="2.0" height="7.9"/><rect x="1388.0" y="175.3" width="2.0" height="7.9"/><rect x="1388.0" y="189.2" width="2.0" height="7.9"/><rect x="1388.0" y="203.2" width="2.0" height="7.9"/><rect x="1388.0" y="217.1" width="2.0" height="7.9"/><rect x="1388.0" y="231.1" width="2.0" height="7.9"/><rect x="1388.0" y="245.0" width="2.0" height="7.9"/><rect x="1388.0" y="259.0" width="2.0" height="7.9"/><rect x="1388.0" y="272.9" width="2.0" height="7.9"/><rect x="1388.0" y="286.9" width="2.0" height="7.9"/><rect x="1388.0" y="300.8" width="2.0" height="7.9"/><rect x="1388.0" y="314.8" width="2.0" height="7.9"/><rect x="1388.0" y="328.7" width="2.0" height="7.9"/><rect x="1388.0" y="342.7" width="2.0" height="7.9"/><rect x="1388.0" y="356.6" width="2.0" height="7.9"/><rect x="1388.0" y="370.6" width="2.0" height="7.9"/><rect x="1388.0" y="384.5" width="2.0" height="7.9"/><rect x="1388.0" y="398.5" width="2.0" height="7.9"/><rect x="1388.0" y="412.4" width="2.0" height="7.9"/><rect x="1388.0" y="426.4" width="2.0" height="7.9"/><rect x="1388.0" y="440.3" width="2.0" height="7.9"/><rect x="1388.0" y="454.3" width="2.0" height="7.9"/><rect x="1388.0" y="468.2" width="2.0" height="7.9"/><rect x="1388.0" y="482.2" width="2.0" height="7.9"/><rect x="1388.0" y="496.1" width="2.0" height="7.9"/><rect x="1388.0" y="510.1" width="2.0" height="7.9"/><rect x="1388.0" y="524.0" width="2.0" height="7.9"/><rect x="1388.0" y="538.0" width="2.0" height="7.9"/><rect x="1388.0" y="551.9" width="2.0" height="7.9"/><rect x="1388.0" y="565.9" width="2.0" height="7.9"/><rect x="1388.0" y="579.8" width="2.0" height="7.9"/><rect x="1388.0" y="593.8" width="2.0" height="7.9"/><rect x="1388.0" y="607.8" width="2.0" height="7.9"/><rect x="1388.0" y="621.7" width="2.0" height="7.9"/><rect x="1388.0" y="635.7" width="2.0" height="7.9"/><rect x="1388.0" y="649.6" width="2.0" height="7.9"/><rect x="1388.0" y="663.6" width="2.0" height="7.9"/><rect x="1388.0" y="677.5" width="2.0" height="7.9"/><rect x="1388.0" y="691.5" width="2.0" height="7.9"/><rect x="1388.0" y="705.4" width="2.0" height="7.9"/><rect x="1388.0" y="719.4" width="2.0" height="7.9"/><rect x="1388.0" y="733.3" width="2.0" height="7.9"/><rect x="1388.0" y="747.3" width="2.0" height="7.9"/><rect x="1388.0" y="761.2" width="2.0" height="7.9"/><rect x="1388.0" y="775.2" width="2.0" height="7.9"/><rect x="1388.0" y="789.1" width="2.0" height="7.9"/><rect x="1388.0" y="803.1" width="2.0" height="7.9"/><rect x="1388.0" y="817.0" width="2.0" height="7.9"/><rect x="1388.0" y="831.0" width="2.0" height="7.9"/><rect x="1388.0" y="844.9" width="2.0" height="7.9"/><rect x="1388.0" y="858.9" width="2.0" height="7.9"/><rect x="1388.0" y="872.8" width="2.0" height="7.9"/><rect x="1388.0" y="886.8" width="2.0" height="7.9"/><rect x="1388.0" y="900.7" width="2.0" height="7.9"/><rect x="1388.0" y="914.7" width="2.0" height="7.9"/><rect x="1388.0" y="928.6" width="2.0" height="7.9"/><rect x="1388.0" y="942.6" width="2.0" height="7.9"/><rect x="1388.0" y="956.5" width="2.0" height="7.9"/><rect x="1388.0" y="970.5" width="2.0" height="7.9"/><rect x="1388.0" y="984.4" width="2.0" height="7.9"/><rect x="1388.0" y="998.4" width="2.0" height="7.9"/><rect x="1388.0" y="1012.3" width="2.0" height="7.9"/><rect x="1388.0" y="1026.3" width="2.0" height="7.9"/><rect x="1388.0" y="1040.2" width="2.0" height="7.9"/><rect x="1388.0" y="1054.2" width="2.0" height="7.9"/><rect x="1388.0" y="1068.1" width="2.0" height="7.9"/><rect x="1388.0" y="1082.1" width="2.0" height="7.9"/><rect x="1388.0" y="1096.0" width="2.0" height="7.9"/><rect x="1388.0" y="1108.0" width="2.0" height="19.0"/>
<rect x="355" y="93.8" width="3" height="1036.2"/>
<rect x="1594" y="93.8" width="3" height="1036.2"/>
<rect x="355" y="1127" width="1242" height="3"/>
<rect x="355" y="93.8" width="829" height="2.3"/>
<rect x="1184" y="93.8" width="412" height="1.4"/>
<rect x="358" y="979.3" width="24" height="3"/>
<rect x="358" y="831.7" width="24" height="3"/>
<rect x="358" y="684.0" width="24" height="3"/>
<rect x="358" y="536.4" width="24" height="3"/>
<rect x="358" y="388.7" width="24" height="3"/>
<rect x="358" y="241.1" width="24" height="3"/>
<rect x="1571" y="920.3" width="23" height="3"/>
<rect x="1571" y="713.6" width="23" height="3"/>
<rect x="1571" y="506.8" width="23" height="3"/>
<rect x="1571" y="300.1" width="6" height="3"/><rect x="1581" y="300.1" width="13" height="3"/>
</g>
<g filter="url(#hard)">
<text transform="translate(323.6,1144.2) scale(1,1.015)" font-size="85.3" fill="#e00000" text-anchor="end">0</text>
<text transform="translate(323.6,996.4) scale(1,1.015)" font-size="85.3" fill="#e00000" text-anchor="end">100</text>
<text transform="translate(323.6,848.6) scale(1,1.015)" font-size="85.3" fill="#e00000" text-anchor="end">200</text>
<text transform="translate(323.6,700.8) scale(1,1.015)" font-size="85.3" fill="#e00000" text-anchor="end">300</text>
<text transform="translate(323.6,553.0) scale(1,1.015)" font-size="85.3" fill="#e00000" text-anchor="end">400</text>
<text transform="translate(323.6,405.2) scale(1,1.015)" font-size="85.3" fill="#e00000" text-anchor="end">500</text>
<text transform="translate(323.6,257.4) scale(1,1.015)" font-size="85.3" fill="#e00000" text-anchor="end">600</text>
<text transform="translate(323.6,109.6) scale(1,1.015)" font-size="85.3" fill="#e00000" text-anchor="end">700</text>
<text transform="translate(1626.2,1145.0) scale(1,1.015)" font-size="85.3" fill="#0000dd" text-anchor="start">0</text>
<text transform="translate(1626.2,937.9) scale(1,1.015)" font-size="85.3" fill="#0000dd" text-anchor="start">100</text>
<text transform="translate(1626.2,730.8) scale(1,1.015)" font-size="85.3" fill="#0000dd" text-anchor="start">200</text>
<text transform="translate(1626.2,523.8) scale(1,1.015)" font-size="85.3" fill="#0000dd" text-anchor="start">300</text>
<text transform="translate(1626.2,316.7) scale(1,1.015)" font-size="85.3" fill="#0000dd" text-anchor="start">400</text>
<text transform="translate(1626.2,109.6) scale(1,1.015)" font-size="85.3" fill="#0000dd" text-anchor="start">500</text>
<text transform="translate(357.2,1214.6) scale(1,1.015)" font-size="85.3" fill="#000" text-anchor="middle">0</text>
<text transform="translate(562.0,1214.6) scale(1,1.015)" font-size="85.3" fill="#000" text-anchor="middle">4</text>
<text transform="translate(771.0,1214.6) scale(1,1.015)" font-size="85.3" fill="#000" text-anchor="middle">8</text>
<text transform="translate(978.0,1214.6) scale(1,1.015)" font-size="85.3" fill="#000" text-anchor="middle">12</text>
<text transform="translate(1183.8,1214.6) scale(1,1.015)" font-size="85.3" fill="#000" text-anchor="middle">16</text>
<text transform="translate(1388.2,1214.6) scale(1,1.015)" font-size="85.3" fill="#000" text-anchor="middle">20</text>
<text transform="translate(1593.5,1214.6) scale(1,1.015)" font-size="85.3" fill="#000" text-anchor="middle">24</text>
<text transform="translate(1012.0,1316.8) scale(1,1.015)" font-size="83.8" fill="#000" text-anchor="middle">Time, hours</text>
<text transform="translate(103.4,610.5) rotate(-90) scale(1,1.015)" font-size="84.4" fill="#e00000" text-anchor="middle">Power, kW</text>
<text transform="translate(1805.9,614.2) rotate(90) scale(1,1.015)" font-size="83.4" fill="#0000dd" text-anchor="middle">Thrust, kN</text>
</g>
<g shape-rendering="crispEdges" fill="#0000dd">
<rect x="1388" y="119.5" width="2" height="7.9"/>
<rect x="1388" y="133.4" width="2" height="7.9"/>
<rect x="1388" y="147.4" width="2" height="7.9"/>
<rect x="1388" y="161.3" width="2" height="7.9"/>
<rect x="1388" y="175.3" width="2" height="7.9"/>
<rect x="1388" y="189.2" width="2" height="7.9"/>
<rect x="1388" y="203.2" width="2" height="7.9"/>
<rect x="1388" y="217.1" width="2" height="7.9"/>
<rect x="1388" y="231.1" width="2" height="7.9"/>
<rect x="1388" y="245.0" width="2" height="7.9"/>
<rect x="1388" y="259.0" width="2" height="7.9"/>
<rect x="1388" y="272.9" width="2" height="7.9"/>
<rect x="1388" y="286.9" width="2" height="7.9"/>
<rect x="1388" y="300.8" width="2" height="7.9"/>
<rect x="1388" y="314.8" width="2" height="7.9"/>
<rect x="1388" y="328.7" width="2" height="7.9"/>
</g>
</svg></body></html>
